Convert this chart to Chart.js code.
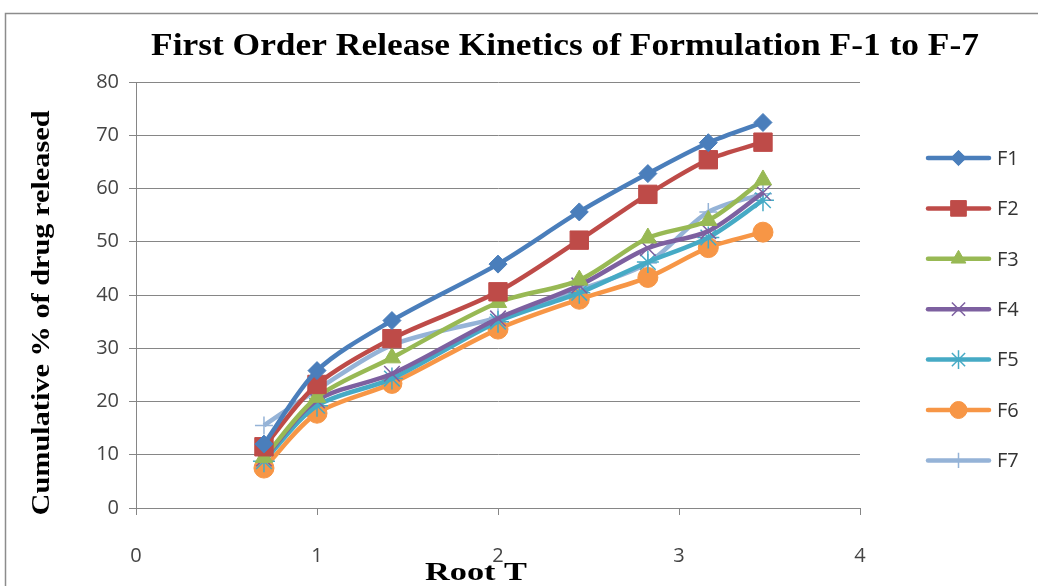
<!DOCTYPE html>
<html>
<head>
<meta charset="utf-8">
<script src="https://cdn.jsdelivr.net/npm/chart.js@4"></script>
<style>
html,body{margin:0;padding:0;background:#fff;}
#wrap{width:1038px;height:586px;position:relative;}
</style>
</head>
<body>
<div id="wrap"><canvas id="c" width="1038" height="586"></canvas></div>
<script>
const rootT = [0.707, 1, 1.414, 2, 2.449, 2.828, 3.162, 3.464];
const F1 = [12, 25.8, 35.2, 45.8, 55.6, 62.8, 68.6, 72.4];
const F2 = [11.5, 23.2, 31.8, 40.6, 50.3, 58.9, 65.4, 68.7];
const F3 = [9.5, 20.8, 28.2, 38.6, 42.8, 50.7, 54, 61.6];
const F4 = [9.3, 20.2, 25.2, 35.6, 41.8, 48.8, 52, 59.2];
const F5 = [8.8, 19.2, 24.3, 35, 40.4, 46.2, 50.8, 57.8];
const F6 = [7.5, 17.8, 23.4, 33.6, 39.2, 43.3, 48.9, 51.8];
const F7 = [15.5, 22.2, 30.6, 35.8, 41, 46, 55.6, 59];
const seriesNames = ['F1','F2','F3','F4','F5','F6','F7'];
const seriesValues = [F1,F2,F3,F4,F5,F6,F7];
const xTicks = [0,1,2,3,4];
const yTicks = [0,10,20,30,40,50,60,70,80];
const titleText = 'First Order Release Kinetics of Formulation F-1 to F-7';
const xTitle = 'Root T';
const yTitle = 'Cumulative % of drug released';

const colors = ['#4A7EBB','#BE4B48','#98B954','#7D60A0','#46AAC5','#F79646','#95B3D7'];
const styles = ['rectRot','rect','triangle','crossRot','star','circle','cross'];
const radii = [9,13,10,11,11,10,9];
const thin = s => (s==='crossRot'||s==='star'||s==='cross');

const datasets = seriesNames.map((n,i)=>({
  label:n,
  data: rootT.map((x,j)=>({x:x,y:seriesValues[i][j]})),
  borderColor: colors[i],
  backgroundColor: colors[i],
  borderWidth: 4.5,
  pointStyle: styles[i],
  pointRadius: radii[i],
  pointBorderWidth: thin(styles[i])?1.5:1,
  pointBorderColor: colors[i],
  pointBackgroundColor: colors[i],
  tension: 0.3
}));

function fitText(ctx, text, x, y, font, targetW){
  ctx.save();
  ctx.font = font;
  const w = ctx.measureText(text).width;
  ctx.translate(x, y);
  ctx.scale(targetW/w, 1);
  ctx.textAlign='center';
  ctx.textBaseline='middle';
  ctx.fillText(text, 0, 0);
  ctx.restore();
}

const decor = {
  id:'decor',
  beforeDraw(chart){
    const ctx = chart.ctx;
    ctx.save();
    ctx.fillStyle='#fff';
    ctx.fillRect(0,0,chart.width,chart.height);
    ctx.strokeStyle='#8c8c8c';
    ctx.lineWidth=1.5;
    ctx.beginPath();
    ctx.moveTo(5.5, chart.height+5);
    ctx.lineTo(5.5, 13.5);
    ctx.lineTo(chart.width+5, 13.5);
    ctx.stroke();
    ctx.restore();
  },
  afterDraw(chart){
    const ctx = chart.ctx;
    ctx.save();
    ctx.fillStyle='#000';
    fitText(ctx, titleText, 565, 47, 'bold 31px "Liberation Serif", "Times New Roman", serif', 828);
    fitText(ctx, xTitle, 476, 573, 'bold 26px "Liberation Serif", "Times New Roman", serif', 102);
    ctx.save();
    ctx.translate(42, 313);
    ctx.rotate(-Math.PI/2);
    fitText(ctx, yTitle, 0, 0, 'bold 26px "Liberation Serif", "Times New Roman", serif', 405);
    ctx.restore();
    ctx.restore();
    // legend
    ctx.save();
    const lx0 = 928, lx1 = 989, ly0 = 158, step = 50.4;
    chart.data.datasets.forEach((ds,i)=>{
      const y = ly0 + i*step;
      ctx.strokeStyle = ds.borderColor;
      ctx.lineWidth = 4.5;
      ctx.lineCap='round';
      ctx.beginPath();
      ctx.moveTo(lx0,y);ctx.lineTo(lx1,y);ctx.stroke();
      ctx.fillStyle = ds.backgroundColor;
      ctx.strokeStyle = ds.borderColor;
      ctx.lineWidth = ds.pointBorderWidth;
      ctx.lineCap='butt';
      Chart.helpers.drawPoint(ctx,{pointStyle:ds.pointStyle,rotation:0,borderWidth:ds.pointBorderWidth,radius:ds.pointRadius*0.85},(lx0+lx1)/2,y);
      ctx.fillStyle='#333';
      ctx.font='20px "Open Sans", "Liberation Sans", sans-serif';
      ctx.textAlign='left';
      ctx.textBaseline='middle';
      ctx.fillText(ds.label, lx1+8, y+1);
    });
    ctx.restore();
  }
};

new Chart(document.getElementById('c'),{
  type:'line',
  data:{datasets},
  options:{
    responsive:false,
    animation:false,
    devicePixelRatio:1,
    layout:{padding:{left:0,top:82,right:178,bottom:0}},
    plugins:{legend:{display:false},title:{display:false},tooltip:{enabled:false}},
    scales:{
      x:{
        type:'linear',min:0,max:4,
        afterBuildTicks(s){s.ticks = xTicks.map(v=>({value:v}));},
        afterFit(s){s.height=78;},
        grid:{display:true,drawOnChartArea:false,drawTicks:true,tickLength:7,color:'#868686',lineWidth:1},
        border:{display:true,color:'#868686',width:1},
        ticks:{color:'#444',font:{family:'"Open Sans", "Liberation Sans", sans-serif',size:20},padding:29}
      },
      y:{
        type:'linear',min:0,max:80,
        afterBuildTicks(s){s.ticks = yTicks.map(v=>({value:v}));},
        afterFit(s){s.width=136;},
        grid:{display:true,drawOnChartArea:true,drawTicks:true,tickLength:7,color:'#868686',lineWidth:1},
        border:{display:true,color:'#868686',width:1},
        ticks:{color:'#444',font:{family:'"Open Sans", "Liberation Sans", sans-serif',size:20},padding:10}
      }
    }
  },
  plugins:[decor]
});
</script>
</body>
</html>
